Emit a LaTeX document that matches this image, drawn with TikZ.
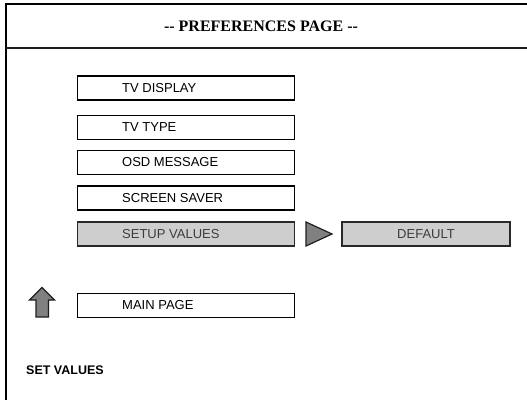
\documentclass[tikz,border=0pt]{standalone}
\usepackage{fontspec}
\setmainfont{Liberation Serif}
\newfontfamily\arialfont{Liberation Sans}
\definecolor{darkline}{RGB}{30,30,30}
\definecolor{selborder}{RGB}{40,40,40}
\definecolor{selfill}{RGB}{206,206,206}
\definecolor{seltextcol}{RGB}{60,60,60}
\definecolor{shapefill}{RGB}{128,128,128}
\begin{document}
\begin{tikzpicture}[x=1pt,y=-1pt,
  frameline/.style={line width=2pt,black},
  menubox/.style={draw=black,line width=1.8pt,fill=white,rectangle,minimum width=217pt,minimum height=24pt,inner sep=0pt},
  menutext/.style={anchor=west,font=\arialfont\fontsize{13}{15}\selectfont,inner sep=0pt},
  selbox/.style={draw=selborder,line width=1.6pt,fill=selfill,rectangle,minimum height=24pt,inner sep=0pt},
  seltext/.style={font=\arialfont\fontsize{13}{15}\selectfont,text=seltextcol,inner sep=0pt},
  greyshape/.style={draw=darkline,line width=1.2pt,fill=shapefill}]
\useasboundingbox (0,0) rectangle (527,399);
% frame
\coordinate (tl) at (6,4);
\coordinate (tr) at (530,4);
\coordinate (bl) at (6,402);
\coordinate (sl) at (6,47.5);
\coordinate (sr) at (530,47.5);
\draw[frameline] (bl) -- (tl) -- (tr);
\draw[line width=2pt,darkline] (sl) -- (sr);
\node[font=\bfseries\fontsize{16}{18}\selectfont,inner sep=0pt] (title) at (261,26) {-{}- PREFERENCES PAGE -{}-};
% menu boxes
\node[menubox] (b1) at (186,88) {};
\node[menutext] (t1) at (122,88) {TV DISPLAY};
\node[menubox] (b2) at (186,127.5) {};
\node[menutext] (t2) at (122,127.5) {TV TYPE};
\node[menubox] (b3) at (186,162.5) {};
\node[menutext] (t3) at (122,162.5) {OSD MESSAGE};
\node[menubox] (b4) at (186,198) {};
\node[menutext] (t4) at (122,198) {SCREEN SAVER};
\node[selbox,minimum width=217pt] (b5) at (186,234) {};
\node[seltext,anchor=west] (t5) at (122,234) {SETUP VALUES};
\node[menubox] (b6) at (186,305.5) {};
\node[menutext] (t6) at (122,305.5) {MAIN PAGE};
% triangle
\draw[greyshape] (306,222) -- (332,234) -- (306,246) -- cycle;
% default box
\node[selbox,minimum width=168pt] (b7) at (426,234) {};
\node[seltext] (t7) at (426,234) {DEFAULT};
% up arrow
\draw[greyshape,line join=miter] (42,287.5) -- (54.5,300) -- (48.5,300) -- (48.5,317) -- (36,317) -- (36,300) -- (29.5,300) -- cycle;
% footer
\node[anchor=west,font=\arialfont\bfseries\fontsize{12.5}{14}\selectfont,inner sep=0pt] (sv) at (26,370) {SET VALUES};
\end{tikzpicture}
\end{document}
